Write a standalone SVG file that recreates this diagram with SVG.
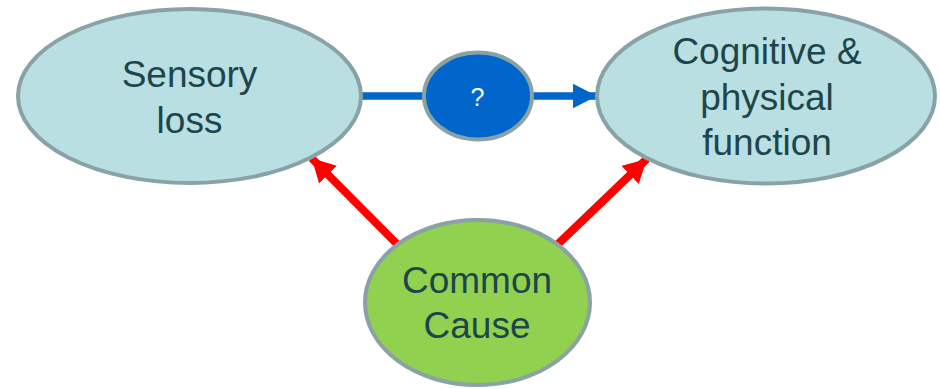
<svg xmlns="http://www.w3.org/2000/svg" width="940" height="389" viewBox="0 0 940 389">
  <style>
    .node { stroke: #88A2A5; stroke-width: 4; }
    .light { fill: #B9DFE2; }
    .lbl { font-family: "Liberation Sans", Arial, sans-serif; font-size: 37px; fill: #1D464C; text-anchor: middle; }
    .q { font-family: "Liberation Sans", Arial, sans-serif; font-size: 25px; fill: #FFFFFF; text-anchor: middle; }
  </style>
  <defs>
    <marker id="redHead" markerUnits="userSpaceOnUse" markerWidth="24" markerHeight="26" refX="23" refY="12.5" orient="auto">
      <path d="M0,0 L23,12.5 L0,25 Z" fill="#FF0000"/>
    </marker>
    <marker id="blueHead" markerUnits="userSpaceOnUse" markerWidth="25" markerHeight="26" refX="24.5" refY="12.5" orient="auto">
      <path d="M0,0 L24.5,12.5 L0,25 Z" fill="#0066CC"/>
    </marker>
  </defs>
  <g id="connectors">
    <line x1="362" y1="96" x2="424" y2="96" stroke="#0066CC" stroke-width="7.5"/>
    <line x1="530" y1="96" x2="597" y2="96" stroke="#0066CC" stroke-width="7.5" marker-end="url(#blueHead)"/>
    <line x1="398" y1="245" x2="311.7" y2="158.3" stroke="#FF0000" stroke-width="8" marker-end="url(#redHead)"/>
    <line x1="557" y1="245" x2="646.7" y2="159" stroke="#FF0000" stroke-width="8" marker-end="url(#redHead)"/>
  </g>
  <g id="sensory">
    <ellipse class="node light" cx="189.5" cy="96" rx="171.5" ry="87"/>
    <text class="lbl" x="189.5" y="87.3">Sensory</text>
    <text class="lbl" x="189.5" y="132.7">loss</text>
  </g>
  <g id="cognitive">
    <ellipse class="node light" cx="766" cy="96" rx="169" ry="87.5"/>
    <text class="lbl" x="767" y="64">Cognitive &amp;</text>
    <text class="lbl" x="767" y="109.5">physical</text>
    <text class="lbl" x="767" y="154.5">function</text>
  </g>
  <g id="question">
    <ellipse class="node" fill="#0066CC" cx="478" cy="96" rx="54" ry="43.5"/>
    <text class="q" x="477.5" y="106">?</text>
  </g>
  <g id="common">
    <ellipse class="node" fill="#92D050" cx="477.5" cy="302.5" rx="112.5" ry="82.5"/>
    <text class="lbl" x="477" y="293.3">Common</text>
    <text class="lbl" x="477" y="338.3">Cause</text>
  </g>
</svg>
